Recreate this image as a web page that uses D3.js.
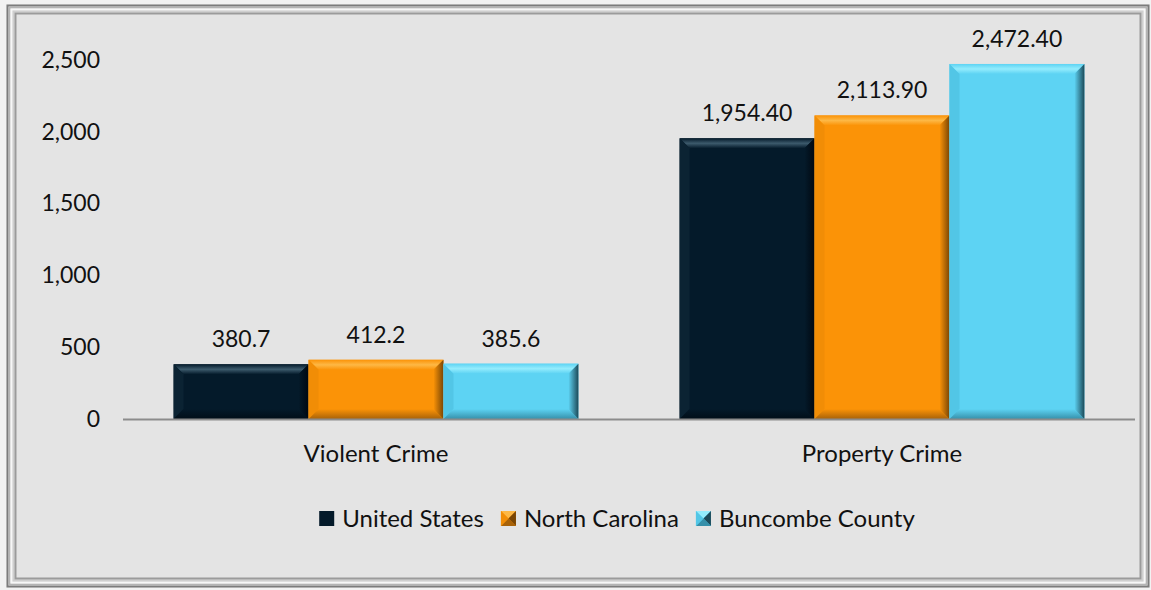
<!DOCTYPE html>
<html>
<head>
<meta charset="utf-8">
<script src="https://cdn.jsdelivr.net/npm/d3@7"></script>
<style>
  html, body { margin: 0; padding: 0; background: #f2f2f2; }
  svg { display: block; }
  text { font-family: Lato, "Open Sans", sans-serif; fill: #111; }
</style>
</head>
<body>
<svg id="chart" width="1151" height="590"></svg>
<script>
// Crime rates per 100,000 residents
const categories = ["Violent Crime", "Property Crime"];
const seriesNames = ["United States", "North Carolina", "Buncombe County"];
const unitedStates = [380.7, 1954.4];
const northCarolina = [412.2, 2113.9];
const buncombeCounty = [385.6, 2472.4];
const valueLabels = [
  ["380.7", "412.2", "385.6"],
  ["1,954.40", "2,113.90", "2,472.40"]
];
const yTicks = [0, 500, 1000, 1500, 2000, 2500];

const seriesValues = [unitedStates, northCarolina, buncombeCounty];

// Face, top, left, right, bottom shades for each series' bevelled bars
const palette = [
  { face: "#041a2a", top: "#3c5a6c", left: "#0b2333", right: "#000811", bottom: "#010e18" },
  { face: "#fb9307", top: "#fdb845", left: "#f18d06", right: "#7a4604", bottom: "#a86208" },
  { face: "#5dd3f3", top: "#93ecfd", left: "#52c6e6", right: "#1c4a59", bottom: "#3690aa" }
];

const svg = d3.select("#chart");
const defs = svg.append("defs");

// Gradients for the shaded bevels
palette.forEach((c, i) => {
  const gr = defs.append("linearGradient").attr("id", "rg" + i)
    .attr("x1", 0).attr("x2", 1).attr("y1", 0).attr("y2", 0);
  gr.append("stop").attr("offset", 0).attr("stop-color", c.face);
  gr.append("stop").attr("offset", 1).attr("stop-color", c.right);
  const gb = defs.append("linearGradient").attr("id", "bg" + i)
    .attr("x1", 0).attr("x2", 0).attr("y1", 0).attr("y2", 1);
  gb.append("stop").attr("offset", 0).attr("stop-color", c.face);
  gb.append("stop").attr("offset", 1).attr("stop-color", c.bottom);
  const gt = defs.append("linearGradient").attr("id", "tg" + i)
    .attr("x1", 0).attr("x2", 0).attr("y1", 0).attr("y2", 1);
  gt.append("stop").attr("offset", 0).attr("stop-color", c.face);
  gt.append("stop").attr("offset", 0.5).attr("stop-color", c.top);
  gt.append("stop").attr("offset", 1).attr("stop-color", c.face);
});

// ---- Frame ----
const frame = svg.append("g");
const rings = [
  { o: 0, c: "#7c7c7c" },
  { o: 2, c: "#b4b4b4" },
  { o: 4, c: "#f7f7f7" },
  { o: 6, c: "#cfcfcf" },
  { o: 8, c: "#9b9b9b" }
];
const fx0 = 6.5, fy0 = 4.5, fx1 = 1149.5, fy1 = 587.5;
frame.append("rect")
  .attr("x", fx0).attr("y", fy0)
  .attr("width", fx1 - fx0).attr("height", fy1 - fy0)
  .attr("fill", "#e4e4e4");
rings.forEach(r => {
  frame.append("rect")
    .attr("x", fx0 + r.o + 1).attr("y", fy0 + r.o + 1)
    .attr("width", fx1 - fx0 - 2 * r.o - 2).attr("height", fy1 - fy0 - 2 * r.o - 2)
    .attr("fill", "none").attr("stroke", r.c).attr("stroke-width", 2);
});

// ---- Scales ----
const plot = { left: 123, right: 1135, top: 60, bottom: 419 };

const x0 = d3.scaleBand()
  .domain(categories)
  .range([plot.left, plot.right])
  .paddingInner(0.2)
  .paddingOuter(0.1);

const x1 = d3.scaleBand()
  .domain(seriesNames)
  .range([0, x0.bandwidth()])
  .padding(0);

const y = d3.scaleLinear()
  .domain([0, 2500])
  .range([plot.bottom, plot.top]);

// ---- Y axis labels ----
const yAxis = d3.axisLeft(y)
  .tickValues(yTicks)
  .tickFormat(d3.format(","))
  .tickSize(0)
  .tickPadding(0);

const yg = svg.append("g")
  .attr("transform", `translate(${100},0)`)
  .call(yAxis);
yg.select(".domain").remove();
yg.selectAll("text")
  .attr("font-size", 23)
  .attr("font-family", "Lato, 'Open Sans', sans-serif")
  .attr("fill", "#111");

// ---- Bars ----
const B = 10; // bevel depth

function bevelBar(g, xL, yT, w, h, col, i) {
  const xR = xL + w, yB = yT + h;
  const b = Math.min(B, h / 2, w / 2);
  g.append("rect").attr("x", xL).attr("y", yT).attr("width", w).attr("height", h).attr("fill", col.face);
  const poly = (pts, fill) => g.append("polygon")
    .attr("points", pts.map(p => p.join(",")).join(" "))
    .attr("fill", fill);
  poly([[xL, yT], [xR, yT], [xR - b, yT + b], [xL + b, yT + b]], `url(#tg${i})`);
  poly([[xL, yT], [xL + b, yT + b], [xL + b, yB - b], [xL, yB]], col.left);
  poly([[xL, yB], [xL + b, yB - b], [xR - b, yB - b], [xR, yB]], `url(#bg${i})`);
  poly([[xR, yT], [xR, yB], [xR - b, yB - b], [xR - b, yT + b]], `url(#rg${i})`);
}

categories.forEach((cat, ci) => {
  const g = svg.append("g").attr("transform", `translate(${x0(cat)},0)`);
  seriesNames.forEach((s, si) => {
    const v = seriesValues[si][ci];
    const bx = x1(s);
    const bw = x1.bandwidth();
    const yt = y(v);
    bevelBar(g, bx, yt, bw, y(0) - yt, palette[si], si);
    g.append("text")
      .attr("x", bx + bw / 2)
      .attr("y", yt - 17)
      .attr("text-anchor", "middle")
      .attr("font-size", 23)
      .text(valueLabels[ci][si]);
  });
});

// ---- X axis ----
const xAxis = d3.axisBottom(x0).tickSize(0).tickPadding(0);
const xg = svg.append("g")
  .attr("transform", `translate(0,${plot.bottom})`)
  .call(xAxis);
xg.select(".domain").remove();
xg.selectAll("text")
  .attr("font-size", 24)
  .attr("font-family", "Lato, 'Open Sans', sans-serif")
  .attr("fill", "#111")
  .attr("dy", "0")
  .attr("y", 43);

svg.append("line")
  .attr("x1", plot.left).attr("x2", plot.right)
  .attr("y1", plot.bottom + 0.5).attr("y2", plot.bottom + 0.5)
  .attr("stroke", "#8c8c8c").attr("stroke-width", 2);

// ---- Legend (centred row) ----
const lg = svg.append("g");
const sw = 15, gapText = 8, gapItem = 17, legendCenter = 617, legendTop = 511;
const items = seriesNames.map((name, i) => {
  const g = lg.append("g");
  const t = g.append("text")
    .attr("x", sw + gapText)
    .attr("y", 16)
    .attr("font-size", 24)
    .text(name);
  const c = palette[i];
  g.append("rect").attr("width", sw).attr("height", sw).attr("fill", c.face);
  if (i > 0) {
    const poly = (pts, fill) => g.append("polygon").attr("points", pts.map(p => p.join(",")).join(" ")).attr("fill", fill);
    poly([[0, 0], [sw, 0], [sw / 2, sw / 2]], c.top);
    poly([[sw, 0], [sw, sw], [sw / 2, sw / 2]], c.right);
    poly([[0, sw], [sw, sw], [sw / 2, sw / 2]], c.bottom);
    poly([[0, 0], [0, sw], [sw / 2, sw / 2]], c.left);
  }
  return { g, w: sw + gapText + t.node().getComputedTextLength() };
});
const total = d3.sum(items, d => d.w) + gapItem * (items.length - 1);
let cx = legendCenter - total / 2;
items.forEach(it => {
  it.g.attr("transform", `translate(${cx},${legendTop})`);
  cx += it.w + gapItem;
});
</script>
</body>
</html>
